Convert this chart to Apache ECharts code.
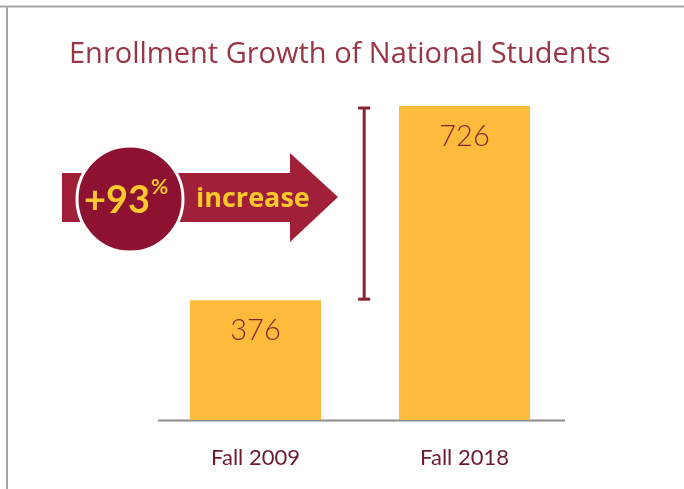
<!DOCTYPE html>
<html><head><meta charset="utf-8">
<script src="https://cdn.jsdelivr.net/npm/echarts@6/dist/echarts.min.js"></script>
<style>html,body{margin:0;padding:0;background:#fff}#c{width:684px;height:489px}</style>
</head><body><div id="c"></div>
<script>
const categories = ['Fall 2009', 'Fall 2018'];
const enrollment = [376, 726];
const increasePct = 93;

const chart = echarts.init(document.getElementById('c'));
const FONT = 'Lato';
chart.setOption({
  animation: false,
  title: {
    text: 'Enrollment Growth of National Students',
    left: 64, top: 35,
    textStyle: { fontFamily: 'Open Sans', fontSize: 29, fontWeight: 'normal', color: '#9a3545' }
  },
  grid: { left: 151, right: 115, top: 106, bottom: 69 },
  xAxis: {
    type: 'category', data: categories,
    axisLine: { show: false }, axisTick: { show: false },
    axisLabel: { margin: 27, fontFamily: FONT, fontSize: 22, color: '#6d1a2b' }
  },
  yAxis: { type: 'value', min: 160, max: 726, show: false, splitLine: { show: false } },
  series: [
    {
      type: 'bar', data: enrollment, barWidth: 131,
      itemStyle: { color: '#fdbb3b' },
      label: { show: true, position: 'insideTop', distance: 16, fontFamily: FONT, fontSize: 29, fontWeight: 300, color: '#8b2233' }
    },
    {
      type: 'custom', data: [[0]], silent: true, z: 5,
      renderItem: function (params, api) {
        const p0 = api.coord([0, enrollment[0]]);
        const p1 = api.coord([1, enrollment[1]]);
        const x = p0[0] + (p1[0] - p0[0]) * 0.52;
        const st = { stroke: '#8b2233', lineWidth: 3 };
        return { type: 'group', children: [
          { type: 'line', shape: { x1: x, y1: p1[1] + 2, x2: x, y2: p0[1] - 1 }, style: st },
          { type: 'line', shape: { x1: x - 6, y1: p1[1] + 2, x2: x + 6, y2: p1[1] + 2 }, style: st },
          { type: 'line', shape: { x1: x - 6, y1: p0[1] - 1, x2: x + 6, y2: p0[1] - 1 }, style: st }
        ]};
      }
    }
  ],
  graphic: [
    { type: 'line', shape: { x1: 0, y1: 6.5, x2: 684, y2: 6.5 }, style: { stroke: '#a8a8a8', lineWidth: 2 } },
    { type: 'line', shape: { x1: 7, y1: 6, x2: 7, y2: 489 }, style: { stroke: '#a8a8a8', lineWidth: 2 } },
    { type: 'line', shape: { x1: 158, y1: 420.5, x2: 565, y2: 420.5 }, style: { stroke: '#8c8c8c', lineWidth: 2 } },
    { type: 'polygon', shape: { points: [[62,173],[290,173],[290,153],[338,197],[290,242],[290,222],[62,222]] },
      style: { fill: '#a12039' } },
    { type: 'circle', shape: { cx: 130, cy: 199, r: 53 }, style: { fill: '#8d1130', stroke: '#ffffff', lineWidth: 3 } },
    { type: 'text', x: 117, y: 201, style: { text: '+' + increasePct, fontFamily: FONT, fontSize: 38, fontWeight: 'bold',
      fill: '#ffc82c', align: 'center', verticalAlign: 'middle' } },
    { type: 'text', x: 151, y: 187, style: { text: '%', fontFamily: FONT, fontSize: 21, fontWeight: 'bold',
      fill: '#ffc82c', align: 'left', verticalAlign: 'middle' } },
    { type: 'text', x: 196, y: 199, style: { text: 'increase', fontFamily: 'Open Sans', fontSize: 27, fontWeight: 'bold',
      fill: '#ffc82c', align: 'left', verticalAlign: 'middle' } }
  ]
});
</script></body></html>
